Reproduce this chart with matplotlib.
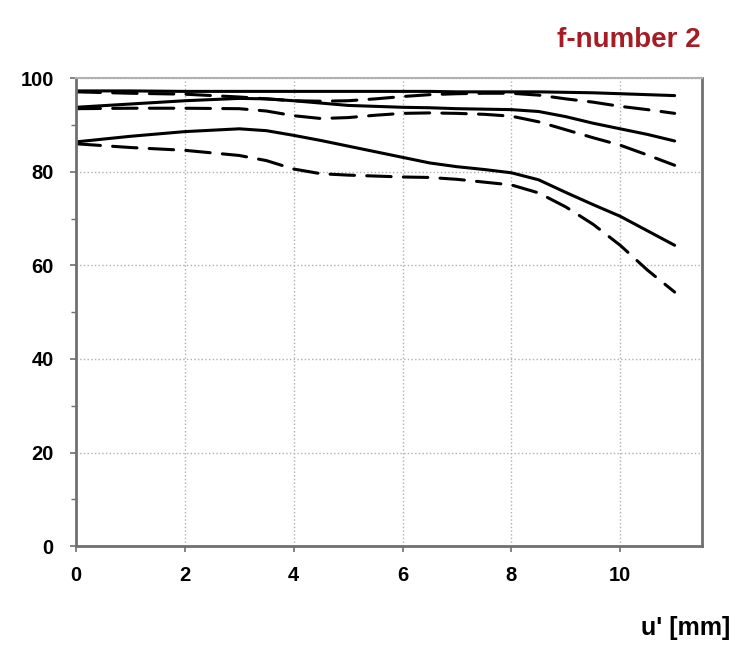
import numpy as np
import matplotlib
matplotlib.use("Agg")
import matplotlib.pyplot as plt
from matplotlib.ticker import MultipleLocator

# image height u' in mm
u = [0, 1, 2, 3, 3.5, 4, 4.5, 5, 5.5, 6, 6.5, 7, 7.5, 8, 8.5, 9, 9.5, 10, 10.5, 11]

# MTF curves (solid = sagittal, dashed = meridional)
solid_top = [97.3, 97.3, 97.2, 97.2, 97.2, 97.2, 97.2, 97.2, 97.2, 97.2, 97.2, 97.1, 97.1, 97.1, 97.1, 97.0, 96.9, 96.7, 96.5, 96.3]
dash_top = [97.1, 96.8, 96.6, 96.0, 95.6, 95.2, 95.1, 95.2, 95.6, 96.1, 96.5, 96.7, 96.8, 96.8, 96.4, 95.6, 94.9, 94.0, 93.3, 92.5]
solid_mid = [93.8, 94.5, 95.2, 95.7, 95.6, 95.2, 94.7, 94.2, 94.0, 93.8, 93.7, 93.5, 93.4, 93.3, 92.9, 91.8, 90.4, 89.2, 88.0, 86.6]
dash_mid = [93.5, 93.6, 93.6, 93.5, 93.0, 92.0, 91.4, 91.6, 92.1, 92.5, 92.6, 92.5, 92.3, 91.9, 90.7, 89.0, 87.3, 85.7, 83.6, 81.4]
solid_low = [86.4, 87.6, 88.6, 89.2, 88.8, 87.8, 86.7, 85.5, 84.3, 83.1, 81.9, 81.1, 80.5, 79.8, 78.3, 75.6, 73.0, 70.5, 67.4, 64.3]
dash_low = [86.0, 85.2, 84.6, 83.5, 82.4, 80.6, 79.6, 79.3, 79.1, 78.9, 78.8, 78.4, 77.8, 77.2, 75.5, 72.5, 68.8, 64.3, 59.0, 54.3]

xticks = [0, 2, 4, 6, 8, 10]
yticks = [0, 20, 40, 60, 80, 100]

plt.rcParams['font.family'] = ['Liberation Sans', 'DejaVu Sans']

fig = plt.figure(figsize=(7.38, 6.47), dpi=100)
ax = fig.add_axes([0.103, 0.156, 0.848, 0.723])

for ys in [solid_top, solid_mid, solid_low]:
    ax.plot(u, ys, color='black', lw=2.2, solid_capstyle='round')
for ys in [dash_top, dash_mid, dash_low]:
    ax.plot(u, ys, color='black', lw=2.2, dashes=(8, 4), dash_capstyle='round')

ax.set_xlim(0, 11.5)
ax.set_ylim(0, 100)
ax.set_xticks(xticks)
ax.set_yticks(yticks)
ax.yaxis.set_minor_locator(MultipleLocator(10))
ax.grid(True, which='major', color='#b0b0b0', linestyle=':', linewidth=1.0)

for lab in ax.get_xticklabels() + ax.get_yticklabels():
    lab.set_fontweight('bold')
    lab.set_fontsize(14.5)

ax.tick_params(axis='both', which='major', direction='out', length=4, width=1.2, color='#707070')
ax.tick_params(axis='x', which='major', pad=10)
ax.tick_params(axis='y', which='major', pad=12)
ax.tick_params(axis='y', which='minor', direction='out', length=3.5, width=1.0, color='#707070')

for side in ['left', 'bottom', 'right']:
    ax.spines[side].set_color('#707070')
    ax.spines[side].set_linewidth(2)
ax.spines['top'].set_color('#b0b0b0')
ax.spines['top'].set_linewidth(1.5)

fig.text(0.949, 0.938, 'f-number 2', color='#a51c24', fontsize=20, fontweight='bold', ha='right', va='center')
fig.text(0.99, 0.029, "u' [mm]", color='black', fontsize=18, fontweight='bold', ha='right', va='center')

fig.savefig('out.png', dpi=100)
